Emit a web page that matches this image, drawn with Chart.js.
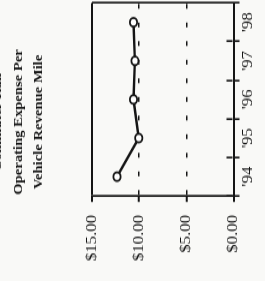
<!DOCTYPE html>
<html>
<head>
<meta charset="utf-8">
<script src="https://cdn.jsdelivr.net/npm/chart.js@4/dist/chart.umd.min.js"></script>
<style>
  html, body { margin: 0; padding: 0; background: #f9f9f7; overflow: hidden; }
  #wrap { position: relative; width: 265px; height: 281px; overflow: hidden; background: #f9f9f7; }
  #rot { position: absolute; left: 0; top: 0; width: 234px; height: 277px;
         transform-origin: 0 0;
         transform: translate(-12px, 281px) rotate(-90deg) scale(1.2009, 1); }
  canvas { display: block; }
</style>
</head>
<body>
<div id="wrap"><div id="rot"><canvas id="c" width="234" height="277"></canvas></div></div>
<script>
// Data
const titleLines = ['Commuter Rail', 'Operating Expense Per', 'Vehicle Revenue Mile'];
const years = ["'94", "'95", "'96", "'97", "'98"];
const expensePerMile = [12.35, 10.05, 10.6, 10.45, 10.6];
const valueTicks = [0, 5, 10, 15];

const ink = '#151515';
const serif = "'Liberation Serif', 'Times New Roman', serif";

new Chart(document.getElementById('c'), {
  type: 'line',
  data: {
    labels: years,
    datasets: [{
      data: expensePerMile,
      borderColor: ink,
      borderWidth: 2.4,
      pointRadius: 3.6,
      pointBorderWidth: 1.8,
      pointBackgroundColor: '#ffffff',
      pointBorderColor: ink,
      tension: 0
    }]
  },
  options: {
    responsive: false,
    animation: false,
    layout: { autoPadding: false, padding: { left: 33.3, right: 2.5, top: 0, bottom: 0 } },
    plugins: {
      legend: { display: false },
      tooltip: { enabled: false },
      title: {
        display: true,
        text: titleLines,
        color: ink,
        font: { family: serif, weight: 'bold', size: 12.2, lineHeight: '20.5px' },
        padding: { top: 0, bottom: 42.5 }
      }
    },
    scales: {
      x: {
        type: 'category',
        offset: true,
        grid: {
          offset: true,
          drawOnChartArea: true,
          color: ink,
          lineWidth: 1.6,
          tickLength: 6,
          tickWidth: 1.6,
          tickColor: ink
        },
        border: {
          display: true,
          color: ink,
          width: 2,
          dash: (ctx) => {
            if (ctx.type !== 'tick') return [];
            const a = ctx.chart.chartArea;
            if (!a) return [];
            const L = a.bottom - a.top - 1;
            return [0, Math.max(L - 6, 0), 6, 2000];
          }
        },
        ticks: {
          color: ink,
          font: { family: serif, size: 14 },
          padding: 0,
          maxRotation: 0,
          autoSkip: false
        },
        afterFit: (s) => { s.height = 31.5; s.paddingLeft = 0; s.paddingRight = 0; }
      },
      y: {
        min: 0,
        max: 15,
        afterBuildTicks: (s) => { s.ticks = valueTicks.map(v => ({ value: v })); },
        grid: {
          color: ink,
          lineWidth: (ctx) => (ctx.tick && (ctx.tick.value === 5 || ctx.tick.value === 10)) ? 1.5 : 2,
          tickLength: 5,
          tickWidth: 2,
          tickColor: ink
        },
        border: {
          display: true,
          color: ink,
          width: 1.7,
          dash: (ctx) => (ctx.tick && (ctx.tick.value === 5 || ctx.tick.value === 10)) ? [4, 11.5] : []
        },
        ticks: {
          color: ink,
          font: { family: serif, size: 14 },
          padding: 10.8,
          callback: (v) => '$' + Number(v).toFixed(2)
        },
        afterFit: (s) => {
          s.width = 37.5;
          s.paddingTop = 0; s.paddingBottom = 0;
          s._computeLabelArea = () => undefined;
        }
      }
    }
  }
});
</script>
</body>
</html>
